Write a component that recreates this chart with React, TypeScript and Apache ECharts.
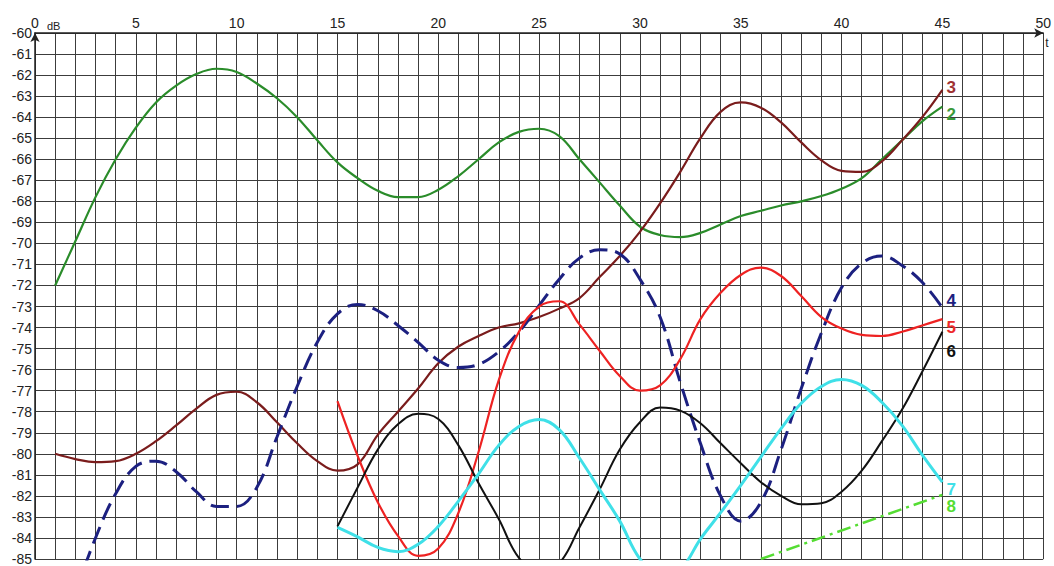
import React, { useEffect, useRef } from "react";
import * as echarts from "echarts";

const xMin = 0;
const xMax = 50;
const yMin = -85;
const yMax = -60;

// Curve 2 (green), x = 1..45
const s2Start = 1;
const s2 = [-72.0, -69.9, -67.8, -66.0, -64.5, -63.3, -62.5, -61.95, -61.7, -61.85, -62.4, -63.1, -64.0, -65.1, -66.15, -66.9, -67.5, -67.8, -67.8, -67.45, -66.8, -66.0, -65.2, -64.7, -64.55, -64.9, -66.0, -67.1, -68.2, -69.2, -69.6, -69.7, -69.5, -69.1, -68.7, -68.45, -68.2, -68.0, -67.75, -67.4, -66.9, -66.0, -65.1, -64.2, -63.5];

// Curve 3 (maroon), x = 1..45
const s3Start = 1;
const s3 = [-80.0, -80.25, -80.4, -80.35, -80.0, -79.4, -78.65, -77.85, -77.2, -77.05, -77.55, -78.5, -79.5, -80.35, -80.8, -80.5, -79.1, -78.0, -76.9, -75.7, -74.9, -74.4, -74.0, -73.8, -73.5, -73.1, -72.6, -71.6, -70.6, -69.45, -68.1, -66.6, -65.0, -63.75, -63.3, -63.55, -64.25, -65.2, -66.05, -66.55, -66.6, -66.1, -65.1, -64.0, -62.7];

// Curve 4 (navy, dashed), x = 2..45
const s4Start = 2;
const s4 = [-86.6, -84.0, -81.9, -80.6, -80.35, -80.85, -81.8, -82.5, -82.5, -81.6, -79.2, -76.8, -74.7, -73.35, -72.9, -73.2, -73.9, -74.7, -75.55, -75.9, -75.75, -75.15, -74.2, -72.95, -71.7, -70.7, -70.3, -70.5, -71.7, -73.5, -76.6, -79.5, -82.0, -83.2, -82.3, -79.8, -76.9, -74.25, -72.1, -70.95, -70.6, -71.05, -71.85, -73.05];

// Curve 5 (red), x = 15..45
const s5Start = 15;
const s5 = [-77.5, -80.1, -82.3, -83.9, -84.85, -84.5, -82.8, -79.9, -76.5, -74.2, -73.0, -72.75, -73.85, -75.1, -76.3, -77.0, -76.75, -75.5, -73.6, -72.35, -71.5, -71.15, -71.55, -72.5, -73.5, -74.05, -74.35, -74.4, -74.2, -73.9, -73.6];

// Curve 6 (black), x = 15..45
const s6Start = 15;
const s6 = [-83.45, -81.6, -79.8, -78.6, -78.1, -78.35, -79.6, -81.4, -83.1, -84.95, -85.6, -85.2, -83.5, -81.7, -79.8, -78.5, -77.8, -77.95, -78.55, -79.5, -80.45, -81.35, -82.0, -82.4, -82.35, -81.8, -80.8, -79.4, -77.9, -76.1, -74.2];

// Curve 7 (cyan), x = 15..45
const s7Start = 15;
const s7 = [-83.5, -83.95, -84.45, -84.65, -84.3, -83.45, -82.25, -80.95, -79.6, -78.7, -78.37, -78.85, -80.2, -81.7, -83.2, -85.0, -85.8, -85.5, -84.05, -82.8, -81.5, -80.15, -78.8, -77.6, -76.8, -76.47, -76.75, -77.55, -78.65, -80.05, -81.35];

// Curve 8 (light green, dash-dot), straight segment
const s8X = [36, 45];
const s8 = [-85.0, -81.95];

const toPairs = (start: number, ys: number[]) => ys.map((y, i) => [start + i, y]);

export default function App() {
  const ref = useRef<HTMLDivElement>(null);

  useEffect(() => {
    if (!ref.current) return;
    const chart = echarts.init(ref.current, null, { renderer: "svg" });
    const font = "Liberation Sans, Arial, sans-serif";

    const mk = (
      name: string,
      data: number[][],
      color: string,
      width: number,
      labelColor: string,
      offset: number[],
      type: any = "solid",
      smooth: any = 0.4
    ) => ({
      type: "line",
      name,
      data,
      smooth,
      showSymbol: false,
      symbol: "none",
      clip: true,
      lineStyle: { color, width, type },
      itemStyle: { color },
      endLabel: {
        show: true,
        formatter: name,
        color: labelColor,
        fontSize: 17,
        fontWeight: "bold",
        fontFamily: font,
        distance: 4,
        offset,
      },
      z: 3,
    });

    chart.setOption({
      animation: false,
      backgroundColor: "#ffffff",
      grid: { left: 35, right: 9, top: 33, bottom: 5, containLabel: false },
      xAxis: {
        type: "value",
        position: "top",
        min: xMin,
        max: xMax,
        interval: 1,
        name: "t",
        nameLocation: "end",
        nameGap: 2,
        nameTextStyle: {
          color: "#222",
          fontSize: 12,
          fontFamily: font,
          align: "left",
          verticalAlign: "top",
          padding: [4, 0, 0, 0],
        },
        axisLine: {
          show: true,
          lineStyle: { color: "#222", width: 1.5 },
          symbol: ["none", "arrow"],
          symbolSize: [7, 9],
        },
        axisTick: { show: false },
        axisLabel: {
          show: true,
          margin: 3,
          color: "#222",
          fontSize: 14,
          fontFamily: font,
          formatter: (v: number) => (v % 5 === 0 ? String(v) : ""),
        },
        splitLine: { show: true, lineStyle: { color: "#3c3c3c", width: 1 } },
      },
      yAxis: {
        type: "value",
        min: yMin,
        max: yMax,
        interval: 1,
        name: "dB",
        nameLocation: "end",
        nameGap: 2,
        nameTextStyle: {
          color: "#222",
          fontSize: 11,
          fontFamily: font,
          align: "left",
          padding: [0, 0, 0, 12],
        },
        axisLine: {
          show: true,
          lineStyle: { color: "#222", width: 1.5 },
          symbol: ["none", "arrow"],
          symbolSize: [7, 9],
        },
        axisTick: { show: false },
        axisLabel: {
          show: true,
          margin: 3,
          color: "#222",
          fontSize: 14,
          fontFamily: font,
        },
        splitLine: { show: true, lineStyle: { color: "#3c3c3c", width: 1 } },
      },
      series: [
        mk("2", toPairs(s2Start, s2), "#2a8c2a", 2.2, "#3a9a3a", [0, 8]),
        mk("3", toPairs(s3Start, s3), "#7a1c1c", 2.2, "#a03232", [0, -2]),
        mk("4", toPairs(s4Start, s4), "#1c2080", 3, "#1c2080", [0, -7], [18, 8]),
        mk("5", toPairs(s5Start, s5), "#ee2222", 2.2, "#ee2a2a", [0, 8]),
        mk("6", toPairs(s6Start, s6), "#111111", 2, "#111111", [0, 20]),
        mk("7", toPairs(s7Start, s7), "#3fe0e8", 3, "#3fe0e8", [0, 7]),
        mk("8", s8X.map((x, i) => [x, s8[i]]), "#55dd33", 2.5, "#55dd33", [0, 12], [14, 5, 3, 5], false),
      ],
    });

    return () => chart.dispose();
  }, []);

  return (
    <div
      ref={ref}
      style={{ position: "fixed", left: 0, top: 0, width: 1054, height: 566, background: "#fff" }}
    />
  );
}
